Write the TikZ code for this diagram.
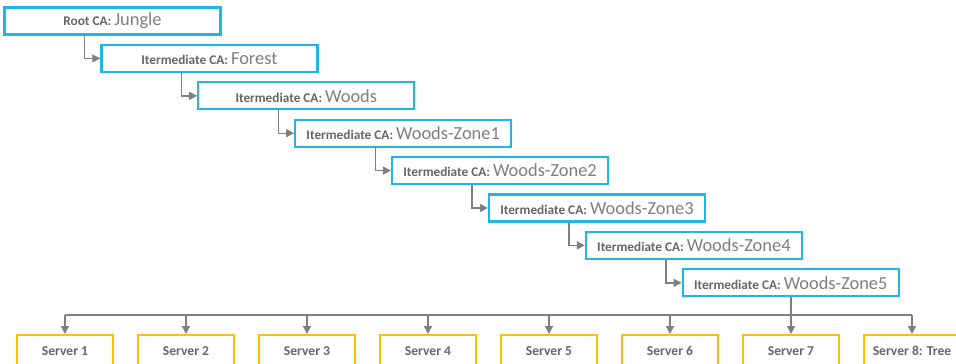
\documentclass[tikz,border=0pt]{standalone}
\usepackage{fontspec}
\setmainfont{Carlito}
\usetikzlibrary{arrows.meta,calc}
\definecolor{caBlue}{HTML}{1FB5E8}
\definecolor{srvYellow}{HTML}{FFC000}
\definecolor{lineGray}{HTML}{7F7F7F}
\definecolor{labelGray}{HTML}{666666}
\definecolor{nameGray}{HTML}{7F7F7F}
\newcommand{\calabel}[2]{{\fontsize{13.3}{15}\selectfont\bfseries\color{labelGray}#1 }{\fontsize{18.4}{20}\selectfont\color{nameGray}#2}}
\begin{document}
\begin{tikzpicture}[x=1pt,y=-1pt,
  cabox/.style={draw=caBlue,line width=2.3pt,fill=white,minimum width=216pt,minimum height=27pt,inner sep=0pt},
  srvbox/.style={draw=srvYellow,line width=2pt,fill=white,minimum width=96pt,minimum height=32pt,inner sep=0pt,
    font=\fontsize{13.6}{15}\selectfont\bfseries,text=labelGray},
  link/.style={draw=lineGray,line width=1.4pt,-{Triangle[length=8pt,width=8pt]}},
  bus/.style={draw=lineGray,line width=1.4pt}]
\useasboundingbox (0,0) rectangle (956,364);
\clip (0,0) rectangle (956,364);
% certificate chain
\node[cabox] (root) at (112.5,21.0) {\calabel{Root CA:}{Jungle}};
\node[cabox] (forest) at (209.4,58.4) {\calabel{Itermediate CA:}{Forest}};
\node[cabox] (woods) at (306.3,95.8) {\calabel{Itermediate CA:}{Woods}};
\node[cabox] (zone1) at (403.2,133.2) {\calabel{Itermediate CA:}{Woods-Zone1}};
\node[cabox] (zone2) at (500.1,170.6) {\calabel{Itermediate CA:}{Woods-Zone2}};
\node[cabox] (zone3) at (597.0,208.0) {\calabel{Itermediate CA:}{Woods-Zone3}};
\node[cabox] (zone4) at (693.9,245.4) {\calabel{Itermediate CA:}{Woods-Zone4}};
\node[cabox] (zone5) at (790.8,282.8) {\calabel{Itermediate CA:}{Woods-Zone5}};
% servers
\foreach \i/\t in {1/Server 1,2/Server 2,3/Server 3,4/Server 4,5/Server 5,6/Server 6,7/Server 7,8/Server 8: Tree}
  \node[srvbox] (s\i) at ({65+121*(\i-1)},351) {\t};
\coordinate (busy) at (0,315);
% chain connectors
\foreach \a/\b in {root/forest,forest/woods,woods/zone1,zone1/zone2,zone2/zone3,zone3/zone4,zone4/zone5}
  \draw[link] ($(\a.south)+(-28,0)$) |- (\b.west);
% distribution bus
\draw[bus] (s1.north |- busy) -- (s8.north |- busy);
\draw[bus] (zone5.south) -- (zone5.south |- busy);
\foreach \i in {1,...,8}
  \draw[link] (s\i.north |- busy) -- (s\i.north);
\end{tikzpicture}
\end{document}
